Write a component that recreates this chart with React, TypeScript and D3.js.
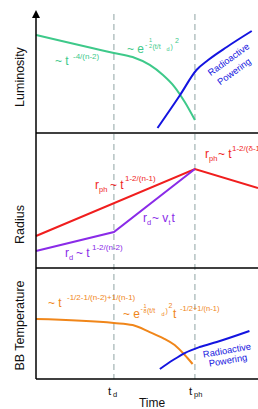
import React from "react";
import * as d3 from "d3";

// time axis: t_d = 1, t_ph = 2.04 (arbitrary units)
const TIME_TICKS = [
  { t: 1, main: "t", sub: "d" },
  { t: 2.04, main: "t", sub: "ph" },
];

// Luminosity panel
const lumThermalT = [0, 1, 1.24, 1.46, 1.63, 1.78, 1.91, 2.04];
const lumThermalV = [8.17, 6.67, 6.33, 5.67, 4.83, 3.83, 2.58, 1.08];
const lumRadioT = [1.56, 1.85, 2.06, 2.21, 2.45, 2.77];
const lumRadioV = [0.42, 3.17, 5.25, 6.08, 7.17, 8.5];

// Radius panel
const rPhotT = [0, 2.04, 2.85];
const rPhotV = [2.37, 7.33, 5.93];
const rDiffT = [0, 1, 2.04];
const rDiffV = [1.26, 2.67, 7.33];

// Temperature panel
const tempThermalT = [0, 1, 1.24, 1.46, 1.63, 1.78, 1.91, 2.01];
const tempThermalV = [5.41, 5.05, 4.86, 4.23, 3.69, 3.06, 2.16, 1.35];
const tempRadioT = [1.59, 1.76, 1.91, 2.1, 2.32, 2.74];
const tempRadioV = [0.9, 1.71, 2.34, 2.88, 3.33, 4.32];

const W = 258;
const H = 409;
const FONT = "Liberation Sans, Arial, sans-serif";

const GREEN = "#3ec98a";
const BLUE = "#1414e0";
const RED = "#f01e1e";
const PURPLE = "#8a2be8";
const ORANGE = "#f0861a";
const DASH = "#a9b9b9";

const zip = (ts: number[], vs: number[]) => ts.map((t, i) => [t, vs[i]] as [number, number]);

const App = () => {
  const x = d3.scaleLinear().domain([0, 2.85]).range([36, 258]);
  const yL = d3.scaleLinear().domain([0, 10]).range([133, 13]);
  const yR = d3.scaleLinear().domain([0, 10]).range([268, 133]);
  const yT = d3.scaleLinear().domain([0, 10]).range([379, 268]);

  const curve = (y: d3.ScaleLinear<number, number>, smooth: boolean) =>
    d3
      .line<[number, number]>()
      .x((d) => x(d[0]))
      .y((d) => y(d[1]))
      .curve(smooth ? d3.curveMonotoneX : d3.curveLinear);

  const axisX = x(0);
  const panelBottoms = [yL(0), yR(0), yT(0)];

  return (
    <svg
      width={W}
      height={H}
      style={{ position: "absolute", left: 0, top: 0, background: "white" }}
      fontFamily={FONT}
    >
      {/* dashed guide lines */}
      {TIME_TICKS.map((d, i) => (
        <line
          key={i}
          x1={x(d.t)}
          x2={x(d.t)}
          y1={14}
          y2={yT(0)}
          stroke={DASH}
          strokeWidth={1.3}
          strokeDasharray="6 4"
        />
      ))}

      {/* curves */}
      <path d={curve(yL, true)(zip(lumThermalT, lumThermalV)) ?? ""} fill="none" stroke={GREEN} strokeWidth={2} />
      <path d={curve(yL, true)(zip(lumRadioT, lumRadioV)) ?? ""} fill="none" stroke={BLUE} strokeWidth={2} />
      <path d={curve(yR, false)(zip(rPhotT, rPhotV)) ?? ""} fill="none" stroke={RED} strokeWidth={2} />
      <path d={curve(yR, false)(zip(rDiffT, rDiffV)) ?? ""} fill="none" stroke={PURPLE} strokeWidth={2} />
      <path d={curve(yT, true)(zip(tempThermalT, tempThermalV)) ?? ""} fill="none" stroke={ORANGE} strokeWidth={2} />
      <path d={curve(yT, true)(zip(tempRadioT, tempRadioV)) ?? ""} fill="none" stroke={BLUE} strokeWidth={2} />

      {/* axes */}
      <line x1={axisX} x2={axisX} y1={16} y2={yT(0)} stroke="black" strokeWidth={1.5} />
      <path d={`M${axisX},10 L${axisX - 4},18 L${axisX + 4},18 Z`} fill="black" />
      {panelBottoms.map((yy, i) => (
        <line key={i} x1={axisX} x2={W} y1={yy} y2={yy} stroke="black" strokeWidth={1.5} />
      ))}

      {/* y labels */}
      <g fontSize={12.5} fill="#111" textAnchor="middle">
        <text transform={`translate(24,${(yL(0) + 13) / 2 + 4}) rotate(-90)`}>Luminosity</text>
        <text transform={`translate(24,${(yR(0) + yL(0)) / 2 + 24}) rotate(-90)`}>Radius</text>
        <text transform={`translate(24,${(yT(0) + yR(0)) / 2 + 2}) rotate(-90)`}>BB Temperature</text>
      </g>

      {/* time ticks */}
      {TIME_TICKS.map((d, i) => (
        <text key={i} x={x(d.t) - 6} y={395} fontSize={11.5} fill="#111">
          {d.main}
          <tspan dx={2} dy={1.5} fontSize={7.5}>
            {d.sub}
          </tspan>
        </text>
      ))}
      <text x={152} y={407} fontSize={12} textAnchor="middle" fill="#111">
        Time
      </text>

      {/* luminosity annotations */}
      <g fill={GREEN}>
        <text x={55} y={65} fontSize={12}>~ t</text>
        <text x={73} y={59} fontSize={8}>-4/(n-2)</text>
        <text x={127} y={53} fontSize={12}>~ e</text>
        <text x={145} y={47} fontSize={7}>-</text>
        <text x={149} y={41.5} fontSize={5.5}>1</text>
        <text x={149} y={47.5} fontSize={5.5}>2</text>
        <text x={152.5} y={48.5} fontSize={7}>(t/t</text>
        <text x={166.5} y={51} fontSize={5.5}>d</text>
        <text x={170.5} y={48.5} fontSize={7}>)</text>
        <text x={175} y={43} fontSize={7}>2</text>
      </g>
      <g fill={BLUE} fontSize={9.3} textAnchor="middle">
        <text transform="translate(230.5,62) rotate(-36)">Radioactive</text>
        <text transform="translate(236,74) rotate(-36)">Powering</text>
      </g>

      {/* radius annotations */}
      <g fill={RED}>
        <text x={95} y={189} fontSize={12}>r</text>
        <text x={99} y={192} fontSize={7.5}>ph</text>
        <text x={110} y={189} fontSize={12}>~ t</text>
        <text x={125} y={181} fontSize={8}>1-2/(n-1)</text>
        <text x={205} y={158} fontSize={12}>r</text>
        <text x={209} y={161} fontSize={7.5}>ph</text>
        <text x={218} y={158} fontSize={12}>~ t</text>
        <text x={232} y={151} fontSize={8}>1-2/(δ-1)</text>
      </g>
      <g fill={PURPLE}>
        <text x={143} y={222} fontSize={12}>r</text>
        <text x={147} y={225} fontSize={7.5}>d</text>
        <text x={152} y={222} fontSize={12}>~ v</text>
        <text x={168.5} y={225} fontSize={7}>t</text>
        <text x={171.5} y={222} fontSize={12}>t</text>
        <text x={65} y={257} fontSize={12}>r</text>
        <text x={69} y={260} fontSize={7.5}>d</text>
        <text x={76} y={257} fontSize={12}>~ t</text>
        <text x={92} y={250} fontSize={8}>1-2/(n-2)</text>
      </g>

      {/* temperature annotations */}
      <g fill={ORANGE}>
        <text x={48} y={307} fontSize={12}>~ t</text>
        <text x={67} y={300} fontSize={8}>-1/2-1/(n-2)+1/(n-1)</text>
        <text x={123} y={318} fontSize={12}>~ e</text>
        <text x={140.5} y={311} fontSize={7}>-</text>
        <text x={143.5} y={307.5} fontSize={5.5}>1</text>
        <text x={143.5} y={313} fontSize={5.5}>8</text>
        <text x={147} y={313} fontSize={7}>(t/t</text>
        <text x={161.5} y={315.5} fontSize={5.5}>d</text>
        <text x={165.5} y={313} fontSize={7}>)</text>
        <text x={168.5} y={308} fontSize={7}>2</text>
        <text x={173} y={318} fontSize={12}>t</text>
        <text x={180} y={311} fontSize={7.5}>-1/2+1/(n-1)</text>
      </g>
      <g fill={BLUE} fontSize={9.3} textAnchor="middle">
        <text transform="translate(227.5,353.5) rotate(-10)">Radioactive</text>
        <text transform="translate(228.5,363.5) rotate(-10)">Powering</text>
      </g>
    </svg>
  );
};

export default App;
